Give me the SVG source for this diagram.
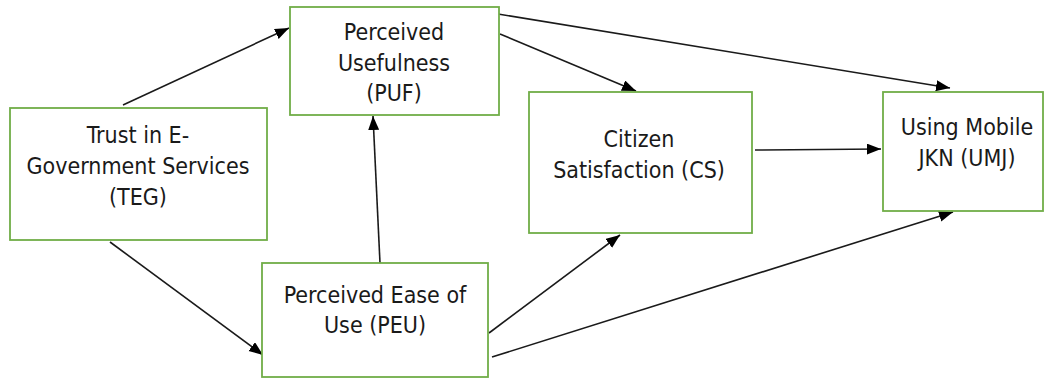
<svg xmlns="http://www.w3.org/2000/svg" width="1048" height="378" viewBox="0 0 1048 378">
<defs>
<style>
.box{fill:#ffffff;stroke:#70AD47;stroke-width:1.8}
.lbl{font-family:"DejaVu Sans Condensed","DejaVu Sans",sans-serif;font-stretch:condensed;font-size:23px;fill:#1a1a1a;text-anchor:middle}
.edge{stroke:#1a1a1a;stroke-width:1.6;fill:none;marker-end:url(#arr)}
</style>
<marker id="arr" markerUnits="userSpaceOnUse" markerWidth="14" markerHeight="12" refX="14" refY="5.5" orient="auto">
<path d="M0,0 L14,5.5 L0,11 z" fill="#000000"/>
</marker>
</defs>
<rect width="1048" height="378" fill="#ffffff"/>
<g id="connectors">
<line class="edge" x1="123" y1="105" x2="289" y2="28"/>
<line class="edge" x1="110" y1="242" x2="263" y2="355"/>
<line class="edge" x1="380" y1="263" x2="373" y2="116"/>
<line class="edge" x1="500" y1="34" x2="636" y2="91"/>
<line class="edge" x1="498" y1="14" x2="950" y2="88"/>
<line class="edge" x1="755" y1="150" x2="881" y2="149"/>
<line class="edge" x1="489" y1="333" x2="620" y2="235"/>
<line class="edge" x1="492" y1="357" x2="953" y2="212"/>
</g>
<g id="TEG">
<rect class="box" x="10" y="108" width="257" height="132"/>
<text class="lbl" x="138" y="143">Trust in E-</text>
<text class="lbl" x="138" y="174">Government Services</text>
<text class="lbl" x="138" y="205">(TEG)</text>
</g>
<g id="PUF">
<rect class="box" x="290" y="7" width="209" height="108"/>
<text class="lbl" x="394" y="40">Perceived</text>
<text class="lbl" x="394" y="71">Usefulness</text>
<text class="lbl" x="394" y="101">(PUF)</text>
</g>
<g id="CS">
<rect class="box" x="529" y="92" width="223" height="141"/>
<text class="lbl" x="639" y="147">Citizen</text>
<text class="lbl" x="639" y="178">Satisfaction (CS)</text>
</g>
<g id="UMJ">
<rect class="box" x="883" y="92" width="160" height="119"/>
<text class="lbl" x="967" y="135">Using Mobile</text>
<text class="lbl" x="967" y="166">JKN (UMJ)</text>
</g>
<g id="PEU">
<rect class="box" x="262" y="263" width="226" height="114"/>
<text class="lbl" x="375" y="303">Perceived Ease of</text>
<text class="lbl" x="375" y="333">Use (PEU)</text>
</g>
</svg>
